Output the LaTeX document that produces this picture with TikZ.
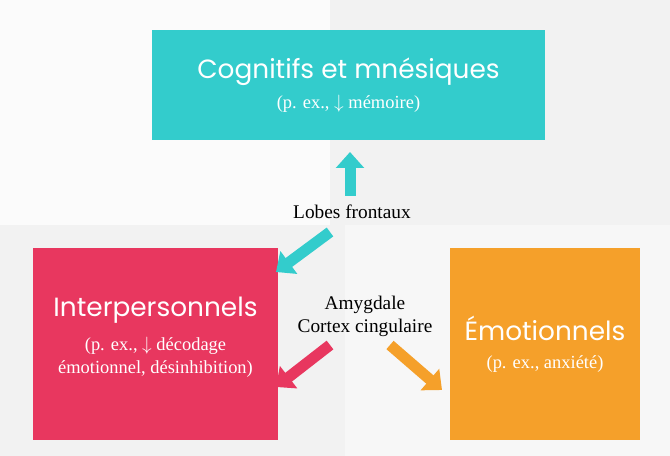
\documentclass[tikz,border=0pt]{standalone}
\usepackage{fontspec}
\setmainfont{Liberation Serif}
\newfontfamily\handfont{Poppins}
\usepackage{xcolor}
\usetikzlibrary{positioning}
\usetikzlibrary{calc,arrows.meta}
\definecolor{tealbox}{HTML}{33CCCC}
\definecolor{pinkbox}{HTML}{E8375F}
\definecolor{orangebox}{HTML}{F5A02A}
\definecolor{paper}{HTML}{F2F2F2}

\tikzset{
  domain/.style={fill=#1, draw=none, inner sep=0pt},
  fatarrow/.style={#1, line width=0.22cm, -{Triangle[length=0.32cm, width=0.55cm]}},
  headline/.style={text=white, font=\handfont\fontsize{15}{18}\selectfont},
  subline/.style={text=white, font=\fontsize{10.5}{13}\selectfont, align=center},
  region/.style={font=\fontsize{11}{13}\selectfont, align=center}
}

\begin{document}
\begin{tikzpicture}[x=0.02cm, y=-0.02cm]

% Paper background
\fill[paper] (0,0) rectangle (670,456);
\fill[white!70!paper] (0,0) rectangle (330,225);
\fill[white!40!paper] (345,225) rectangle (670,456);

% Boxes
\fill[domain=tealbox] (152,30) rectangle (545,140);
\fill[domain=pinkbox] (33,248) rectangle (278,440);
\fill[domain=orangebox] (450,248) rectangle (640,440);

% Box texts
\node[headline] (cogn) at (348.5,72) {Cognitifs et mnésiques};
\node[subline] (cognsub) at (348.5,104) {(p. ex., $\downarrow$ mémoire)};
\node[headline] (inter) at (155.5,310) {Interpersonnels};
\node[subline] (intersub) at (155.5,357) {(p. ex., $\downarrow$ décodage\\émotionnel, désinhibition)};
\node[headline] (emot) at (545,328) {Émotionnels};
\node[subline] (emotsub) at (545,364) {(p. ex., anxiété)};

% Regions
\node[region] (lobes) at (352,212) {Lobes frontaux};
\node[region] (amyg) at (365,316) {Amygdale\\Cortex cingulaire};

% Arrows
\coordinate (lobesup) at (350,196);
\coordinate (cognin) at (350,152);
\coordinate (lobesdown) at (330,232);
\coordinate (interin) at (276,272);
\coordinate (amygleft) at (330,345);
\coordinate (interlow) at (276,387);
\coordinate (amygright) at (390,345);
\coordinate (emotin) at (442,390);
\draw[fatarrow=tealbox] (lobesup) -- (cognin);
\draw[fatarrow=tealbox] (lobesdown) -- (interin);
\draw[fatarrow=pinkbox] (amygleft) -- (interlow);
\draw[fatarrow=orangebox] (amygright) -- (emotin);

\end{tikzpicture}
\end{document}
